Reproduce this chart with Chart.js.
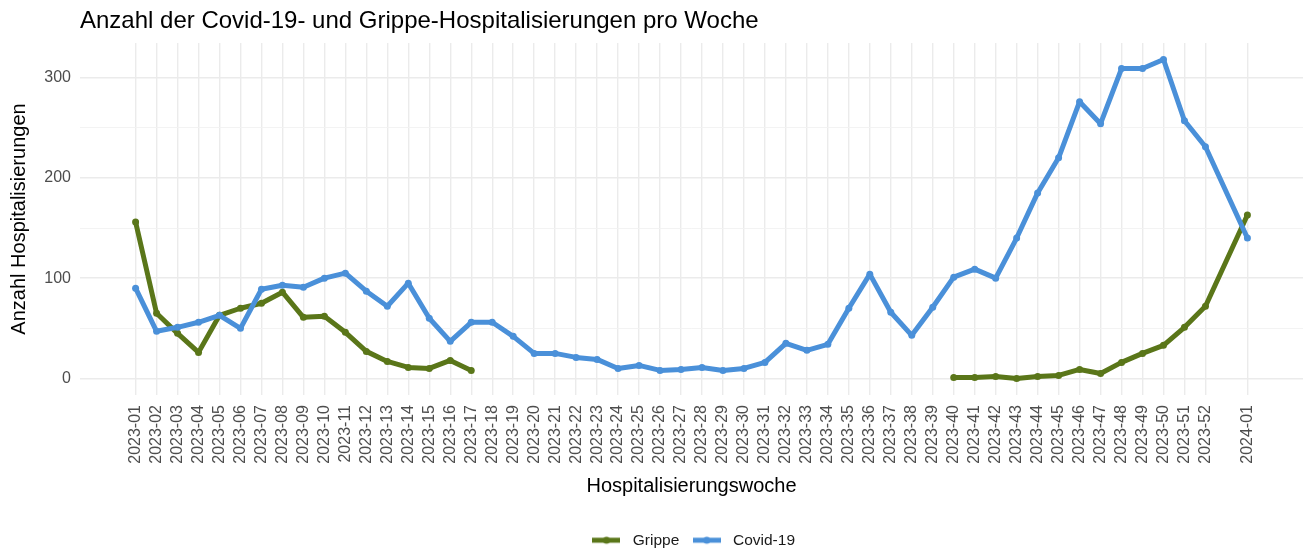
<!DOCTYPE html>
<html>
<head>
<meta charset="utf-8">
<script src="https://cdn.jsdelivr.net/npm/chart.js"></script>
<style>
  html, body { margin: 0; padding: 0; background: #fff; }
  #wrap { width: 1309px; height: 550px; }
</style>
</head>
<body>
<div id="wrap"><canvas id="chart" width="1309" height="550"></canvas></div>
<script>
// Hospitalisierungen pro Woche
const weeks = [
  '2023-01', '2023-02', '2023-03', '2023-04', '2023-05', '2023-06', '2023-07', '2023-08', '2023-09', '2023-10',
  '2023-11', '2023-12', '2023-13', '2023-14', '2023-15', '2023-16', '2023-17', '2023-18', '2023-19', '2023-20',
  '2023-21', '2023-22', '2023-23', '2023-24', '2023-25', '2023-26', '2023-27', '2023-28', '2023-29', '2023-30',
  '2023-31', '2023-32', '2023-33', '2023-34', '2023-35', '2023-36', '2023-37', '2023-38', '2023-39', '2023-40',
  '2023-41', '2023-42', '2023-43', '2023-44', '2023-45', '2023-46', '2023-47', '2023-48', '2023-49', '2023-50',
  '2023-51', '2023-52', '2024-01'
];
const grippe = [
  156, 65, 45, 26, 63, 70, 75, 86, 61, 62,
  46, 27, 17, 11, 10, 18, 8, null, null, null,
  null, null, null, null, null, null, null, null, null, null,
  null, null, null, null, null, null, null, null, null, 1,
  1, 2, 0, 2, 3, 9, 5, 16, 25, 33,
  51, 72, 163
];
const covid = [
  90, 47, 51, 56, 63, 50, 89, 93, 91, 100,
  105, 87, 72, 95, 60, 37, 56, 56, 42, 25,
  25, 21, 19, 10, 13, 8, 9, 11, 8, 10,
  16, 35, 28, 34, 70, 104, 66, 43, 71, 101,
  109, 100, 140, 185, 220, 276, 254, 309, 309, 318,
  257, 231, 140
];
const yTicks = [0, 50, 100, 150, 200, 250, 300];

const GREEN = '#5A7619';
const BLUE = '#4A90D9';
const FONT = '"Liberation Sans", Arial, sans-serif';

// the reference axis puts 2024-01 two slots after 2023-52
function weekPos(label) {
    const [y, w] = label.split('-').map(Number);
    return w + (y - 2023) * 53;
}

// legend swatch: thick line with a dot, like the plotted series
function swatch(color) {
    const c = document.createElement('canvas');
    c.width = 28; c.height = 10;
    const g = c.getContext('2d');
    g.strokeStyle = color; g.lineWidth = 5;
    g.beginPath(); g.moveTo(0, 5); g.lineTo(28, 5); g.stroke();
    g.fillStyle = color;
    g.beginPath(); g.arc(14, 5, 3.5, 0, Math.PI * 2); g.fill();
    return c;
}

const plotTitle = {
    id: 'plotTitle',
    afterDraw(chart) {
        const ctx = chart.ctx;
        ctx.save();
        ctx.font = '24px ' + FONT;
        ctx.fillStyle = '#000';
        ctx.textBaseline = 'alphabetic';
        ctx.fillText('Anzahl der Covid-19- und Grippe-Hospitalisierungen pro Woche', chart.chartArea.left, 28);
        ctx.restore();
    }
};

function series(label, values, color, order) {
    return {
        label: label,
        data: weeks.map((w, i) => ({ x: weekPos(w), y: values[i] })),
        borderColor: color,
        backgroundColor: color,
        borderWidth: 5,
        borderJoinStyle: 'round',
        pointRadius: 3.5,
        pointBorderWidth: 0,
        pointBackgroundColor: color,
        pointHoverRadius: 3.5,
        spanGaps: false,
        order: order
    };
}

new Chart(document.getElementById('chart').getContext('2d'), {
    type: 'line',
    data: {
        datasets: [
            series('Grippe', grippe, GREEN, 1),
            series('Covid-19', covid, BLUE, 0)
        ]
    },
    options: {
        responsive: false,
        animation: false,
        devicePixelRatio: 1,
        layout: { padding: { top: 43, right: 6, bottom: -8, left: 0 } },
        scales: {
            x: {
                type: 'linear',
                min: -1.65,
                max: 56.65,
                afterBuildTicks: s => { s.ticks = weeks.map(w => ({ value: weekPos(w) })); },
                afterFit: s => { s.height = 128.5; },
                ticks: {
                    autoSkip: false,
                    minRotation: 90,
                    maxRotation: 90,
                    padding: 10,
                    color: '#4D4D4D',
                    font: { family: FONT, size: 16 },
                    callback: (v, i) => weeks[i]
                },
                grid: { color: '#EBEBEB', lineWidth: 1.4, drawTicks: false },
                border: { display: false },
                title: {
                    display: true,
                    text: 'Hospitalisierungswoche',
                    color: '#000',
                    font: { family: FONT, size: 20 },
                    padding: { top: 0, bottom: 25 }
                }
            },
            y: {
                min: -16.5,
                max: 334.5,
                afterBuildTicks: s => { s.ticks = yTicks.map(v => ({ value: v })); },
                afterFit: s => { s.width = 80; },
                ticks: {
                    padding: 9,
                    color: '#4D4D4D',
                    font: { family: FONT, size: 16 },
                    callback: v => (v % 100 === 0 ? v : '')
                },
                grid: {
                    drawTicks: false,
                    color: c => (c.tick && c.tick.value % 100 === 0 ? '#EBEBEB' : '#F2F2F2'),
                    lineWidth: c => (c.tick && c.tick.value % 100 === 0 ? 1.4 : 0.9)
                },
                border: { display: false },
                title: {
                    display: true,
                    text: 'Anzahl Hospitalisierungen',
                    color: '#000',
                    font: { family: FONT, size: 20 },
                    padding: { top: 7, bottom: 0 }
                }
            }
        },
        plugins: {
            title: { display: false },
            tooltip: { enabled: false },
            legend: {
                position: 'bottom',
                fullSize: false,
                labels: {
                    usePointStyle: true,
                    pointStyleWidth: 37,
                    padding: 9,
                    color: '#1A1A1A',
                    font: { family: FONT, size: 15.5 },
                    sort: (a, b) => a.datasetIndex - b.datasetIndex,
                    generateLabels: chart => Chart.defaults.plugins.legend.labels.generateLabels(chart).map(item => {
                        const ds = chart.data.datasets[item.datasetIndex];
                        item.pointStyle = swatch(ds.borderColor);
                        return item;
                    })
                }
            }
        }
    },
    plugins: [plotTitle]
});
</script>
</body>
</html>
